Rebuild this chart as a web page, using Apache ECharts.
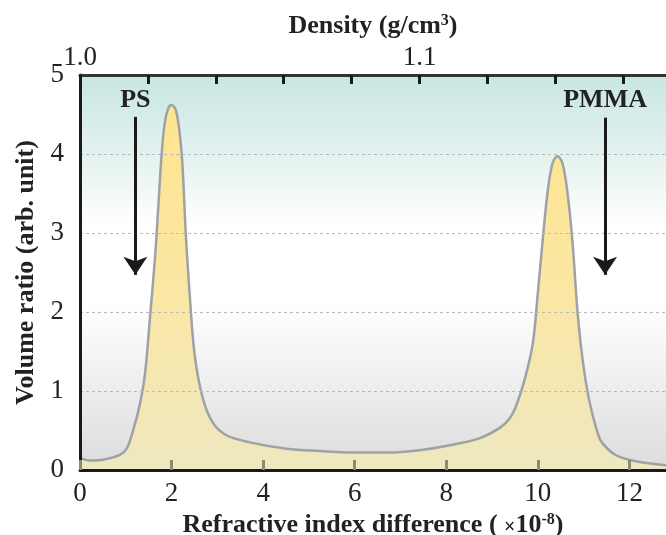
<!DOCTYPE html>
<html>
<head>
<meta charset="utf-8">
<script src="https://cdn.jsdelivr.net/npm/echarts@6/dist/echarts.min.js"></script>
<style>
  html, body { margin: 0; padding: 0; background: #fff; }
  #chart { width: 666px; height: 535px; }
</style>
</head>
<body>
<div id="chart"></div>
<script>
// refractive index difference (x 1e-8) and volume ratio
var indexDiff = [0, 0.22, 0.51, 0.87, 1.02, 1.16, 1.31, 1.42, 1.53, 1.64, 1.71, 1.78, 1.85, 1.93, 2.0,
    2.09, 2.17, 2.24, 2.31, 2.4, 2.51, 2.69, 2.91, 3.2, 3.71, 4.51, 5.24, 5.96, 6.69, 7.42, 8.14,
    8.72, 9.16, 9.38, 9.52, 9.71, 9.89, 10.0, 10.1, 10.21, 10.32, 10.43, 10.54, 10.65, 10.76,
    10.87, 10.98, 11.12, 11.31, 11.41, 11.7, 12.14, 12.8];
var volumeRatio = [0.15, 0.12, 0.13, 0.19, 0.27, 0.5, 0.84, 1.22, 1.94, 2.7, 3.33, 3.97, 4.39, 4.58, 4.62,
    4.56, 4.3, 3.84, 3.0, 2.19, 1.43, 0.89, 0.59, 0.44, 0.35, 0.27, 0.24, 0.22, 0.22, 0.25, 0.32,
    0.40, 0.53, 0.65, 0.80, 1.14, 1.6, 2.24, 2.87, 3.5, 3.88, 3.97, 3.88, 3.5, 2.87,
    1.98, 1.39, 0.89, 0.46, 0.34, 0.19, 0.11, 0.06];

var xRange = [0, 12.8];
var densityRange = [1.0, 1.1726];
var densityLabels = [1.0, 1.1];

// annotation arrows
var arrowNames = ['PS', 'PMMA'];
var arrowX = [1.21, 11.47];
var arrowTop = [4.47, 4.46];
var arrowTip = [2.47, 2.47];

var serif = 'Liberation Serif';

var points = indexDiff.map(function (x, i) { return [x, volumeRatio[i]]; });

var arrows = arrowNames.map(function (n, i) {
    return [{name: n, coord: [arrowX[i], arrowTop[i]]}, {coord: [arrowX[i], arrowTip[i]]}];
});

var option = {
    animation: false,
    grid: {
        left: 80, top: 75, right: 0, bottom: 65,
        outerBoundsMode: 'none',
        containLabel: false,
        show: true,
        borderWidth: 0,
        backgroundColor: {
            type: 'linear', x: 0, y: 0, x2: 0, y2: 1,
            colorStops: [
                {offset: 0, color: '#c8e6e1'},
                {offset: 0.22, color: '#e6f3f1'},
                {offset: 0.38, color: '#ffffff'},
                {offset: 0.58, color: '#ffffff'},
                {offset: 1, color: '#dcdcdc'}
            ]
        }
    },
    xAxis: [{
        type: 'value',
        position: 'bottom',
        min: xRange[0], max: xRange[1], interval: 2,
        z: 5,
        axisLine: {lineStyle: {color: '#1a1a1a', width: 3}},
        axisTick: {inside: true, length: 10, lineStyle: {color: '#8c8a70', width: 3}},
        splitLine: {show: false},
        axisLabel: {fontFamily: serif, fontSize: 27, color: '#222', margin: 10},
        name: 'Refractive index difference ( {x|×}10{sup|-8})',
        nameLocation: 'middle',
        nameGap: 36,
        nameTextStyle: {
            fontFamily: serif, fontSize: 26, fontWeight: 'bold', color: '#222',
            rich: {
                x: {fontFamily: serif, fontSize: 20, color: '#222', padding: [6, 0, 0, 0]},
                sup: {fontFamily: serif, fontSize: 16, fontWeight: 'bold', color: '#222',
                    verticalAlign: 'top', lineHeight: 14}
            }
        }
    }, {
        type: 'value',
        position: 'top',
        min: densityRange[0], max: densityRange[1], interval: 0.02,
        z: 5,
        axisLine: {lineStyle: {color: '#333', width: 3}},
        axisTick: {inside: true, length: 9, lineStyle: {color: '#1a1a1a', width: 3}},
        splitLine: {show: false},
        axisLabel: {
            fontFamily: serif, fontSize: 27, color: '#222', margin: 4,
            showMaxLabel: false,
            formatter: function (v) {
                for (var i = 0; i < densityLabels.length; i++) {
                    if (Math.abs(v - densityLabels[i]) < 1e-6) return densityLabels[i].toFixed(1);
                }
                return '';
            }
        },
        name: 'Density (g/cm{sup|3})',
        nameLocation: 'middle',
        nameGap: 30,
        nameTextStyle: {
            fontFamily: serif, fontSize: 26, fontWeight: 'bold', color: '#222',
            rich: {
                sup: {fontFamily: serif, fontSize: 16, fontWeight: 'bold', color: '#222',
                    verticalAlign: 'top', lineHeight: 14}
            }
        }
    }],
    yAxis: {
        type: 'value',
        min: 0, max: 5, interval: 1,
        z: 5,
        axisLine: {show: true, lineStyle: {color: '#1a1a1a', width: 3}},
        axisTick: {show: false},
        splitLine: {lineStyle: {color: '#b8b8b8', type: [3, 3], width: 1}},
        axisLabel: {fontFamily: serif, fontSize: 27, color: '#222', margin: 16},
        name: 'Volume ratio (arb. unit)',
        nameLocation: 'middle',
        nameGap: 41,
        nameTextStyle: {fontFamily: serif, fontSize: 26, fontWeight: 'bold', color: '#222'}
    },
    series: [{
        type: 'line',
        xAxisIndex: 0,
        data: points,
        symbol: 'none',
        smooth: 0.35,
        lineStyle: {color: '#9ea1a6', width: 2.5},
        areaStyle: {
            color: {
                type: 'linear', x: 0, y: 0, x2: 0, y2: 1,
                colorStops: [
                    {offset: 0, color: '#ffe48f'},
                    {offset: 0.5, color: '#fbe7a3'},
                    {offset: 1, color: '#efe7c0'}
                ]
            },
            opacity: 1
        },
        z: 2,
        markLine: {
            silent: true,
            symbol: ['none', 'arrow'],
            symbolSize: 18,
            lineStyle: {color: '#1a1a1a', width: 3, type: 'solid'},
            itemStyle: {color: '#1a1a1a'},
            label: {
                show: true,
                position: 'start',
                formatter: '{b}',
                distance: 4,
                fontFamily: serif, fontSize: 26, fontWeight: 'bold', color: '#222'
            },
            data: arrows
        }
    }]
};

var chart = echarts.init(document.getElementById('chart'));
chart.setOption(option);
</script>
</body>
</html>
